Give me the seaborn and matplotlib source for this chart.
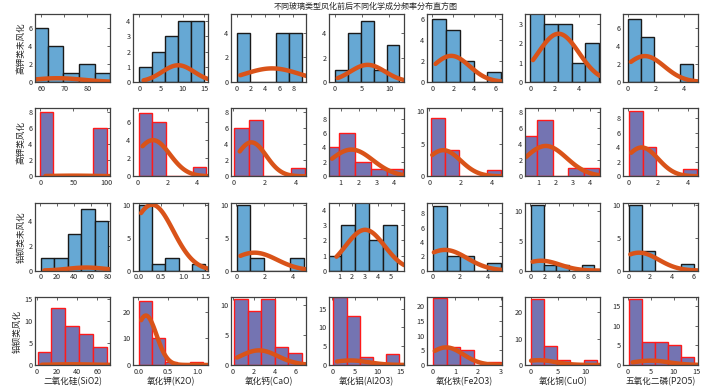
# ==========================================
# 玻璃化学成分频率分布直方图 (4 x 7)
# ==========================================

import numpy as np
import pandas as pd
import matplotlib
matplotlib.use("Agg")
import matplotlib.pyplot as plt
import seaborn as sns

# ==========================================
# DATA
# ==========================================

title = "不同玻璃类型风化前后不同化学成分频率分布直方图"

row_names = ["高钾类未风化", "高钾类风化", "铅钡类未风化", "铅钡类风化"]

oxide_names = ["二氧化硅(SiO2)", "氧化钾(K2O)", "氧化钙(CaO)", "氧化铝(Al2O3)",
               "氧化铁(Fe2O3)", "氧化铜(CuO)", "五氧化二磷(P2O5)"]

# first bin edge and bin width, 5 bins per panel
bin_start = [
    [56.0, 0.0, 0.0, 0.0, 0.0, 0.0, 0.0],
    [0.0, 0.05, 0.06, 0.03, 0.09, 0.04, 0.07],
    [0.8, 0.0, 0.05, 0.04, 0.05, 0.1, 0.1],
    [0.7, 0.02, 0.14, 0.2, 0.03, 0.1, 0.15],
]
bin_width = [
    [6.8, 3.0, 1.84, 2.37, 1.31, 1.12, 0.93],
    [20.0, 0.91, 0.91, 0.89, 0.9, 0.9, 0.9],
    [16.0, 0.3, 0.95, 1.09, 0.98, 1.77, 1.18],
    [13.7, 0.214, 1.29, 2.93, 0.6, 2.38, 2.85],
]

counts = [
    [[6, 4, 1, 2, 1], [1, 2, 3, 4, 4], [4, 0, 0, 4, 4], [1, 4, 5, 1, 3],
     [6, 5, 2, 0, 1], [4, 3, 3, 1, 2], [7, 5, 0, 0, 2]],
    [[8, 0, 0, 0, 6], [7, 6, 0, 0, 1], [6, 7, 0, 0, 1], [4, 6, 2, 1, 1],
     [9, 4, 0, 0, 1], [5, 7, 0, 1, 1], [9, 4, 0, 0, 1]],
    [[1, 1, 3, 5, 4], [10, 1, 2, 0, 1], [10, 2, 0, 0, 2], [1, 3, 5, 2, 3],
     [9, 2, 2, 0, 1], [11, 1, 1, 0, 1], [10, 3, 0, 0, 1]],
    [[3, 13, 9, 7, 4], [24, 10, 1, 0, 1], [11, 9, 11, 3, 2], [18, 13, 2, 0, 3],
     [23, 6, 5, 0, 1], [25, 7, 2, 0, 2], [17, 6, 6, 5, 2]],
]

# fitted normal curve: mean, std, peak height, x range
fit_mu = [
    [67, 9, 5, 6, 1.8, 2.3, 1.2],
    [50, 1.0, 1.15, 1.6, 0.9, 1.45, 0.9],
    [55, 0.3, 1.3, 3.0, 0.9, 1.5, 1.0],
    [35, 0.13, 2.5, 4.0, 0.6, 1.5, 5.0],
]
fit_sd = [
    [11, 3.7, 3.8, 3.2, 1.75, 1.67, 1.4],
    [35, 1.15, 0.95, 1.2, 1.1, 1.2, 1.1],
    [22, 0.48, 1.6, 1.5, 1.6, 2.6, 1.8],
    [20, 0.18, 1.8, 4.0, 0.75, 3.0, 4.0],
]
fit_peak = [
    [0.42, 1.1, 1.1, 1.4, 2.5, 2.5, 2.9],
    [0.08, 4.0, 4.2, 3.7, 4.0, 3.8, 3.95],
    [0.25, 10.1, 2.75, 2.7, 2.9, 1.65, 2.75],
    [0.15, 18.5, 2.45, 1.2, 6.0, 1.8, 1.1],
]
fit_from = [
    [57.2, 1.0, 0.5, 0.5, 0.3, 0.2, 0.2],
    [8, 0.3, 0.4, 0.5, 0.2, 0.3, 0.2],
    [5, 0.05, 0.3, 0.8, 0.1, 0.3, 0.2],
    [5, 0.05, 0.4, 1.0, 0.1, 0.1, 1.0],
]

# axis limits and ticks
x_lims = [
    [(57.2, 90.0), (-1.4, 15.9), (-0.8, 9.8), (-1.1, 12.7), (-0.5, 6.65), (-0.44, 5.7), (-0.36, 5.04)],
    [(-7.6, 105), (-0.34, 4.73), (-0.15, 4.65), (0.34, 4.56), (-0.13, 4.64), (0.26, 4.58), (-0.34, 4.67)],
    [(-6, 83.2), (-0.13, 1.57), (-0.36, 4.96), (0.23, 6.0), (-0.39, 5.05), (-0.75, 9.74), (-0.46, 6.4)],
    [(-1.7, 72.7), (-0.086, 1.18), (-0.17, 7.0), (-0.74, 15.9), (-0.24, 3.07), (-0.98, 12.6), (-1.1, 15.4)],
]
y_tops = [
    [7.6, 4.47, 5.5, 5.55, 6.5, 3.52, 7.6],
    [8.4, 7.5, 8.4, 9.4, 10.4, 8.5, 9.3],
    [5.5, 10.4, 10.4, 4.49, 9.5, 11.35, 10.4],
    [15.5, 25.4, 11.4, 18.1, 23.2, 25.7, 17.4],
]
x_ticks = [
    [[60, 70, 80], [0, 5, 10, 15], [0, 2, 4, 6, 8], [0, 5, 10], [0, 2, 4, 6], [0, 2, 4], [0, 2, 4]],
    [[0, 50, 100], [0, 2, 4], [0, 2, 4], [1, 2, 3, 4], [0, 2, 4], [1, 2, 3, 4], [0, 2, 4]],
    [[0, 20, 40, 60, 80], [0, 0.5, 1, 1.5], [0, 2, 4], [1, 2, 3, 4, 5], [0, 2, 4], [0, 2, 4, 6, 8], [0, 2, 4, 6]],
    [[0, 20, 40, 60], [0, 0.5, 1], [0, 2, 4, 6], [0, 5, 10, 15], [0, 1, 2, 3], [0, 5, 10], [0, 5, 10, 15]],
]
y_steps = [
    [2, 1, 2, 2, 2, 1, 2],
    [2, 2, 2, 2, 5, 2, 2],
    [2, 5, 5, 1, 2, 5, 5],
    [5, 10, 5, 5, 5, 10, 5],
]

# ==========================================
# STYLE
# ==========================================

sns.set_theme(style="white")
plt.rcParams["font.family"] = ["Noto Sans CJK SC", "DejaVu Sans"]

face_colors = ["#66A8D4", "#7474B2", "#66A8D4", "#7474B2"]
edge_colors = ["#1a1a1a", "#FF1A1A", "#1a1a1a", "#FF1A1A"]
curve_color = "#D95319"

# ==========================================
# PLOT
# ==========================================

fig, axes = plt.subplots(4, 7, figsize=(7.16, 3.92), dpi=100)
plt.subplots_adjust(left=0.049, right=0.975, bottom=0.069, top=0.964,
                    wspace=0.307, hspace=0.39)

for r in range(4):
    for c in range(7):
        ax = axes[r, c]
        w = bin_width[r][c]
        edges = [bin_start[r][c] + w * k for k in range(6)]
        centers = [e + w / 2 for e in edges[:-1]]

        df = pd.DataFrame({"x": centers, "n": counts[r][c]})
        sns.histplot(data=df, x="x", weights="n", bins=edges, ax=ax,
                     color=face_colors[r], edgecolor=edge_colors[r],
                     linewidth=1.0, alpha=1.0)

        # normal fit curve
        xs = np.linspace(fit_from[r][c], x_lims[r][c][1], 80)
        ys = fit_peak[r][c] * np.exp(-0.5 * ((xs - fit_mu[r][c]) / fit_sd[r][c]) ** 2)
        sns.lineplot(x=xs, y=ys, ax=ax, color=curve_color, linewidth=3.2)

        ax.set_xlim(x_lims[r][c])
        ax.set_ylim(0, y_tops[r][c])
        ax.set_xticks(x_ticks[r][c])
        ax.set_yticks(np.arange(0, y_tops[r][c] + 1e-9, y_steps[r][c]))
        ax.tick_params(direction="in", top=True, right=True, length=2,
                       width=0.5, labelsize=5.2, pad=2, colors="#262626")

        for s in ax.spines.values():
            s.set_color("#404040")
            s.set_linewidth(0.9)

        ax.set_xlabel("")
        ax.set_ylabel("")

        if c == 0:
            ax.set_ylabel(row_names[r], fontsize=6.2, labelpad=2)
        if r == 3:
            ax.set_xlabel(oxide_names[c], fontsize=6.2, labelpad=1)

fig.text(366 / 716, 1 - 6 / 392, title, ha="center", va="center", fontsize=5.8)

plt.savefig("out.png", dpi=100)
